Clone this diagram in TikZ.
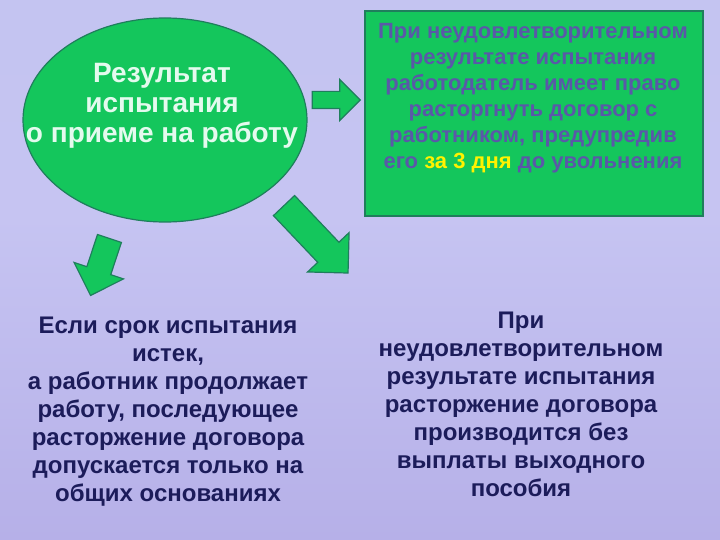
\documentclass[tikz,border=0pt]{standalone}
\usepackage{fontspec}
\setmainfont{Liberation Sans}
\usetikzlibrary{positioning,shapes.geometric,shapes.arrows}
\definecolor{leaf}{HTML}{14C65C}
\definecolor{leafdark}{HTML}{1F7E5C}
\definecolor{ink}{HTML}{1C1C5A}
\definecolor{boxink}{HTML}{5A58A8}
\definecolor{mint}{HTML}{E4FAEE}
\definecolor{skytop}{HTML}{C2C4F0}
\definecolor{skymid}{HTML}{C6C4F2}
\definecolor{skylow}{HTML}{B6B0E8}
\definecolor{skybottom}{HTML}{BFA4DC}
\pgfdeclareverticalshading{sky}{100bp}{color(0bp)=(skybottom); color(25bp)=(skylow);
  color(55bp)=(skymid); color(90bp)=(skytop); color(100bp)=(skylow)}

\begin{document}
\begin{tikzpicture}[x=1pt,y=-1pt,
  green/.style={draw=leafdark,fill=leaf,line width=1.2pt},
  oval/.style={green,ellipse,inner sep=0pt,minimum width=284pt,minimum height=204pt},
  panel/.style={green,rectangle,inner sep=0pt,minimum width=338pt,minimum height=205pt},
  blockarrow/.style={green,single arrow,inner xsep=0pt},
  note/.style={align=center,text=ink,font=\bfseries\fontsize{24}{28}\selectfont}]
\useasboundingbox (0,0) rectangle (720,540);
\shade[shading=sky] (0,0) rectangle (720,540);
% top row
\node[oval] (result) at (165,120) {};
\node[align=center,text=mint,font=\bfseries\fontsize{28}{30}\selectfont] (resulttext) at (162,106)
  {Результат\\испытания\\о приеме на работу};
\node[panel] (rule) at (534,113.5) {};
\node[align=center,text=boxink,font=\bfseries\fontsize{22}{26}\selectfont] (ruletext) at (533,98)
  {При неудовлетворительном\\результате испытания\\работодатель имеет право\\расторгнуть договор с\\работником, предупредив\\его {\color{yellow}за 3 дня} до увольнения};
% arrows
\node[blockarrow, minimum height=48pt, inner ysep=8pt, single arrow head extend=12pt] (toright) at (332,100) {};
\node[blockarrow, minimum height=60pt, inner ysep=12pt, single arrow head extend=13.5pt, rotate=251.6] (todown) at (102,261) {};
\node[blockarrow, minimum height=93pt, inner ysep=14pt, single arrow head extend=14pt, rotate=-46.5] (toside) at (311,234) {};
% bottom row
\node[note] (expired) at (168,412)
  {Если срок испытания\\истек,\\а работник продолжает\\работу, последующее\\расторжение договора\\допускается только на\\общих основаниях};
\node[note] (failed) at (521,404)
  {При\\неудовлетворительном\\результате испытания\\расторжение договора\\производится  без\\выплаты выходного\\пособия};
\end{tikzpicture}
\end{document}
